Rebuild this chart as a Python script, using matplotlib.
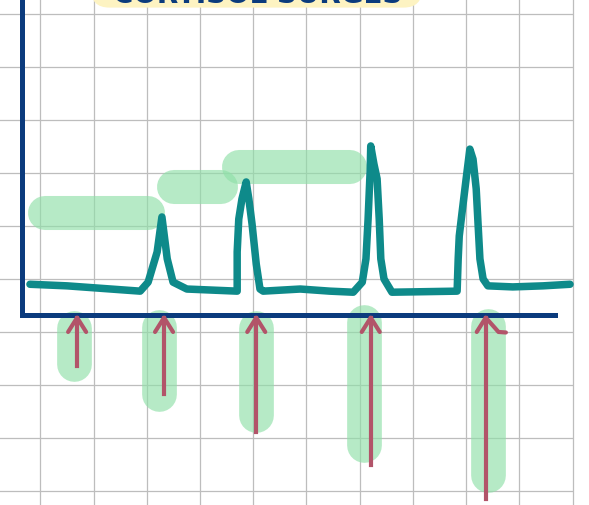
import numpy as np
import matplotlib
matplotlib.use("Agg")
import matplotlib.pyplot as plt
from matplotlib.patches import FancyBboxPatch

# sketch of a signal with spikes; units = grid squares, origin at the axis corner
signal_x = [0.15, 0.85, 2.23, 2.38, 2.55, 2.64, 2.74, 2.85, 3.11,
            4.06, 4.06, 4.09, 4.15, 4.23, 4.28, 4.34, 4.42, 4.49, 4.55,
            5.25, 5.81, 6.25, 6.42, 6.49, 6.53, 6.57, 6.58, 6.64, 6.70,
            6.74, 6.77, 6.83, 6.98, 8.21, 8.23, 8.25, 8.30, 8.38, 8.45,
            8.51, 8.57, 8.60, 8.64, 8.70, 8.79, 9.26, 9.83, 10.34]
signal_y = [0.58, 0.55, 0.45, 0.62, 1.19, 1.85, 1.06, 0.62, 0.49,
            0.45, 1.19, 1.81, 2.19, 2.51, 2.19, 1.72, 0.96, 0.49, 0.45,
            0.49, 0.45, 0.43, 0.62, 1.06, 1.81, 2.75, 3.19, 2.85, 2.57,
            1.81, 1.06, 0.68, 0.43, 0.45, 1.06, 1.49, 1.91, 2.57, 3.13,
            2.94, 2.38, 1.81, 1.06, 0.68, 0.55, 0.53, 0.55, 0.58]

# horizontal highlight bands (start, end, level)
band_start = [0.11, 2.55, 3.77]
band_end = [2.70, 4.08, 6.51]
band_level = [1.92, 2.42, 2.80]

# arrows below the axis: position and how far down they reach
arrow_x = [1.04, 2.68, 4.42, 6.58, 8.75]
arrow_depth = [-0.96, -1.49, -2.21, -2.83, -3.47]
# highlight behind each arrow
arrow_band_x = [0.98, 2.58, 4.41, 6.45, 8.80]
arrow_band_top = [0.08, 0.09, 0.08, 0.19, 0.11]
arrow_band_bottom = [-1.25, -1.81, -2.21, -2.77, -3.34]

title = "CORTISOL SURGES"

fig = plt.figure(figsize=(5.89, 5.06), dpi=100)
ax = fig.add_axes([0, 0, 1, 1])
ax.set_xlim(-22 / 53, 567 / 53)
ax.set_ylim(-190 / 53, 316 / 53)
ax.axis("off")

# paper grid
gx = 0.347 + 1.004 * np.arange(11)
gy = 5.679 - np.arange(10)
ax.vlines(gx, -5, 7, color="#bdbdbd", lw=0.9, zorder=0)
ax.hlines(gy, -1, gx[-1], color="#bdbdbd", lw=0.9, zorder=0)

green = "#8fe0a8"
hw = 0.32  # half of band thickness, rounded ends
for s, e, lv in zip(band_start, band_end, band_level):
    ax.plot([s + hw, e - hw], [lv, lv], color=green, alpha=0.65, lw=24.5,
            solid_capstyle="round", zorder=1)
for x, t, b in zip(arrow_band_x, arrow_band_top, arrow_band_bottom):
    ax.plot([x, x], [t - hw, b + hw], color=green, alpha=0.65, lw=25,
            solid_capstyle="round", zorder=1)

# axes drawn by hand
navy = "#0b3b7d"
ax.plot([0, 0, 10.06], [5.91, 0, 0], color=navy, lw=3.6, zorder=3,
        solid_joinstyle="miter")

ax.plot(signal_x, signal_y, color="#0e8a8a", lw=5.4, zorder=4,
        solid_capstyle="round", solid_joinstyle="round")

red = "#b25469"
for i, (x, d) in enumerate(zip(arrow_x, arrow_depth)):
    ax.plot([x, x], [d, -0.05], color=red, lw=3, zorder=5)
    if i == len(arrow_x) - 1:
        hx = [x - 0.17, x, x + 0.17, x + 0.24, x + 0.38]
        hy = [-0.32, -0.05, -0.24, -0.32, -0.33]
    else:
        hx = [x - 0.17, x, x + 0.17]
        hy = [-0.32, -0.05, -0.32]
    ax.plot(hx, hy, color=red, lw=3, zorder=5, solid_capstyle="round",
            solid_joinstyle="round")

# title badge, cut off at the top of the sketch as in the original
badge = FancyBboxPatch((1.30, 5.80), 6.25, 1.0,
                       boxstyle="round,pad=0,rounding_size=0.35",
                       fc="#fdf3c2", ec="none", zorder=2)
ax.add_patch(badge)
ax.text(4.45, 5.91, title, ha="center", va="baseline", fontsize=20,
        fontweight="bold", color=navy, zorder=3)

fig.savefig("out.png", dpi=100)
